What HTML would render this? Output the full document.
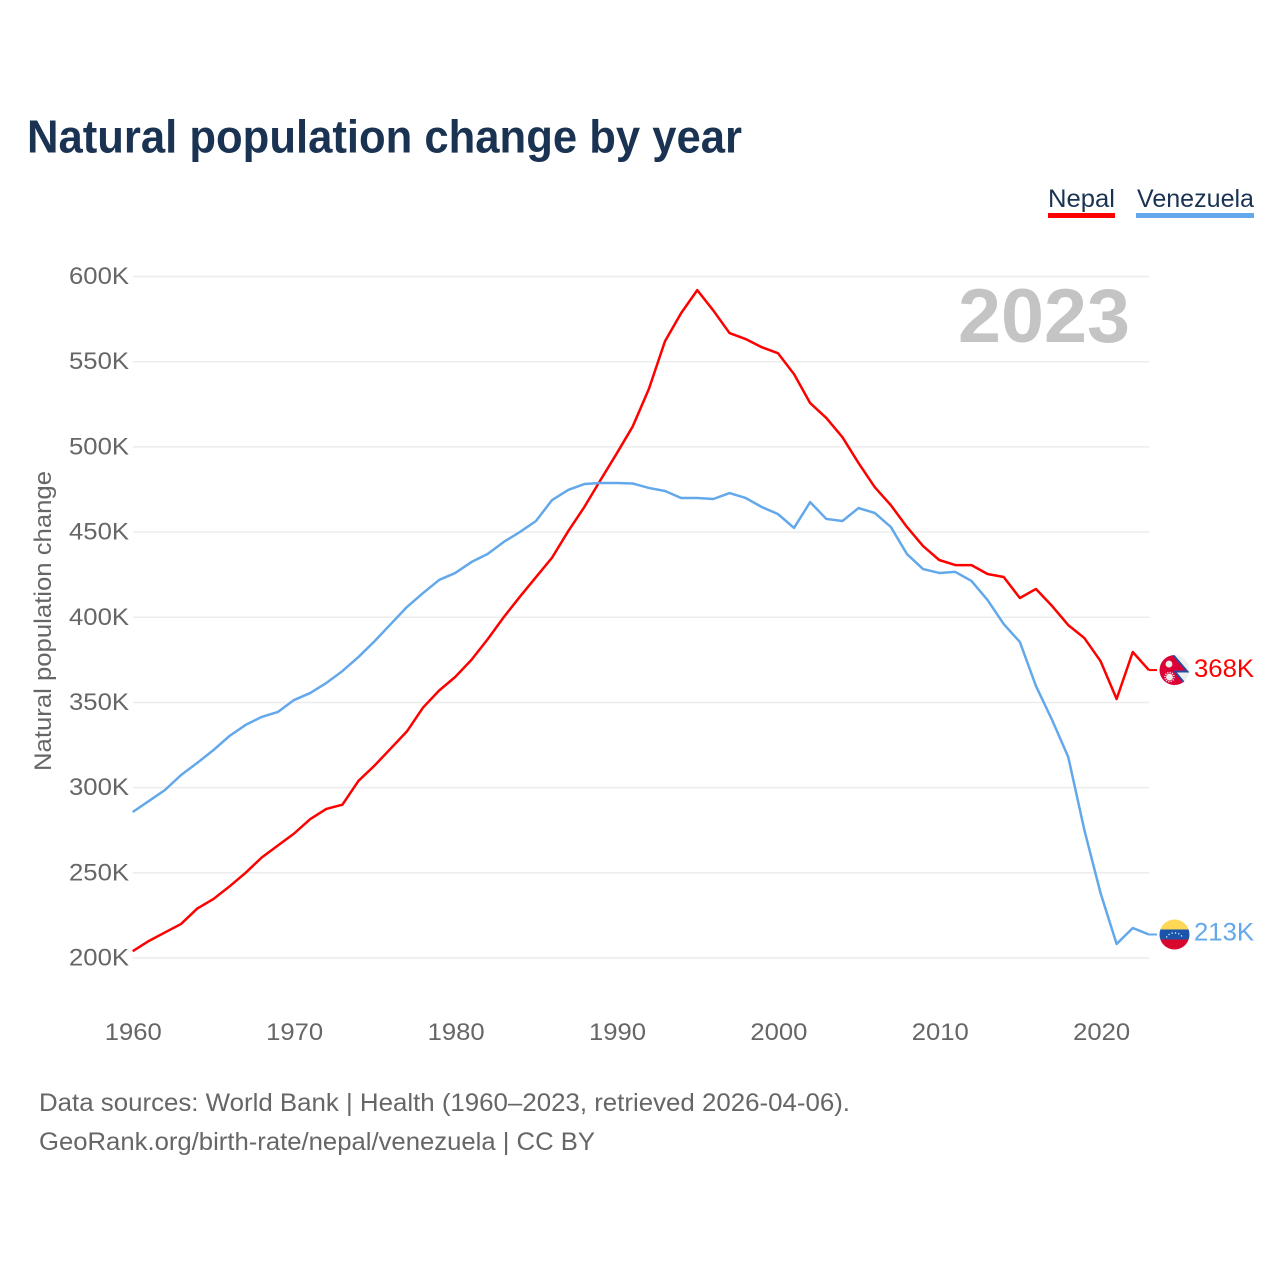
<!DOCTYPE html>
<html lang="en">
<head>
<meta charset="utf-8">
<title>Natural population change by year</title>
<style>
html,body{margin:0;padding:0;background:#fff}
svg{display:block}
text{font-family:"Liberation Sans",sans-serif}
</style>
</head>
<body>
<svg id="chart" width="1280" height="1280" viewBox="0 0 1280 1280" xmlns="http://www.w3.org/2000/svg">
  <defs>
    <clipPath id="flag-clip"><circle cx="0" cy="0" r="15"></circle></clipPath>
  </defs>
  <rect width="1280" height="1280" fill="#fff"></rect>
  <text x="27" y="152.5" font-size="46" font-weight="700" fill="#1a3353" textLength="715" lengthAdjust="spacingAndGlyphs">Natural population change by year</text>

  <g>
    <g>
      <text x="1048" y="207" font-size="25" fill="#1a3353" textLength="67" lengthAdjust="spacingAndGlyphs">Nepal</text>
      <rect x="1048" y="213" width="67" height="5" fill="#ff0000"></rect>
    </g>
    <g>
      <text x="1137" y="207" font-size="25" fill="#1a3353" textLength="117" lengthAdjust="spacingAndGlyphs">Venezuela</text>
      <rect x="1136" y="213" width="118" height="5" fill="#63a8ea"></rect>
    </g>
  </g>

  <g id="grid"></g>
  <g id="y-ticks"></g>
  <g id="x-ticks"></g>

  <text transform="translate(51 771) rotate(-90)" font-size="24" fill="#666666" textLength="300" lengthAdjust="spacingAndGlyphs">Natural population change</text>
  <text x="1130" y="342" font-size="76" font-weight="700" fill="#c4c4c4" text-anchor="end" textLength="172" lengthAdjust="spacingAndGlyphs">2023</text>

  <g id="series"></g>

  <g id="flag-nepal">
    <g clip-path="url(#flag-clip)">
      <rect x="-15" y="-15" width="30" height="30" fill="#eeeeee"></rect>
      <path d="M-16,-16 L-2,-16 L13,1.5 L0.5,1.5 L11,14 L11,16 L-16,16 Z" fill="#dc0037"></path>
      <path d="M-2,-16 L13,1.5 L0.5,1.5 L11,14" fill="none" stroke="#1f4fa3" stroke-width="1.8"></path>
      <circle cx="-5.5" cy="-6" r="3.4" fill="#eeeeee"></circle>
      <circle cx="-5" cy="7" r="3.4" fill="#eeeeee"></circle>
      <circle cx="-5" cy="7" r="4.6" fill="none" stroke="#eeeeee" stroke-width="1.4" stroke-dasharray="1.2 1.2"></circle>
    </g>
  </g>
  <g id="flag-venezuela">
    <g clip-path="url(#flag-clip)">
      <rect x="-15" y="-15" width="30" height="10.5" fill="#fdd755"></rect>
      <rect x="-15" y="-5" width="30" height="10" fill="#1a55ab"></rect>
      <rect x="-15" y="5" width="30" height="10" fill="#d9062e"></rect>
      <path d="M-8,3 A8.5,7 0 0 1 8,3" fill="none" stroke="#ffffff" stroke-width="1.2" stroke-dasharray="1.2 2.2"></path>
    </g>
  </g>

  <g id="end-labels"></g>

  <g>
    <text x="39" y="1111" font-size="25" fill="#666666" textLength="811" lengthAdjust="spacingAndGlyphs">Data sources: World Bank | Health (1960–2023, retrieved 2026-04-06).</text>
    <text x="39" y="1150" font-size="25" fill="#666666" textLength="556" lengthAdjust="spacingAndGlyphs">GeoRank.org/birth-rate/nepal/venezuela | CC BY</text>
  </g>
</svg>

<script>
const startYear = 1960;
const nepalValues = [
  204, 210, 215, 220, 229, 234.6, 242, 250, 259, 266,
  273, 281.5, 287.5, 290, 304, 313, 323, 333, 347, 357,
  365, 375, 387, 400, 412, 423.5, 435, 450.5, 464.7, 480.5,
  496, 512, 534, 562, 578.5, 592, 580, 566.8, 563.3, 558.5,
  555, 542.7, 525.7, 517, 505.7, 490.5, 476.4, 465.8, 453, 441.8,
  433.6, 430.6, 430.6, 425.4, 423.6, 411.3, 416.6, 406.6, 395.4, 387.8,
  374.3, 352, 379.6, 369
];
const venezuelaValues = [
  285.7, 292.1, 298.6, 307.4, 314.5, 322, 330.3, 336.8, 341.5, 344.4,
  351.4, 355.5, 361.4, 368.4, 376.7, 386, 396, 406, 414.2, 421.9,
  426, 432.4, 437.1, 444.2, 450, 456.5, 468.8, 474.7, 478.2, 478.8,
  478.8, 478.5, 475.9, 474.1, 470, 470, 469.4, 472.9, 470, 464.7,
  460.6, 452.4, 467.6, 457.7, 456.5, 464.1, 461.2, 453, 437.1, 428.3,
  426, 426.6, 421.3, 410.1, 396, 385.5, 359.6, 339.7, 318, 275.1,
  238.2, 208.2, 217.6, 213.8
];
const yTickValues = [200, 250, 300, 350, 400, 450, 500, 550, 600];
const yTickLabels = ["200K", "250K", "300K", "350K", "400K", "450K", "500K", "550K", "600K"];
const xTickYears = [1960, 1970, 1980, 1990, 2000, 2010, 2020];
const endLabelTexts = ["368K", "213K"];

const NS = "http://www.w3.org/2000/svg";
function xScale(year) { return 132.7 + (year - 1960) * 16.13; }
function xLabelScale(year) { return 133.3 + (year - 1960) * 16.14; }
function yScale(value) { return 958 - (value - 200) * 1.70375; }
function make(tag, attrs, parent, content) {
  const el = document.createElementNS(NS, tag);
  for (const k in attrs) el.setAttribute(k, attrs[k]);
  if (content !== undefined) el.textContent = content;
  parent.appendChild(el);
  return el;
}

const grid = document.getElementById("grid");
const yTicks = document.getElementById("y-ticks");
const xTicks = document.getElementById("x-ticks");
const seriesGroup = document.getElementById("series");
const endLabels = document.getElementById("end-labels");

yTickValues.forEach(function (v, i) {
  const line = make("line", { x1: 132.7, x2: 1149.5, y1: yScale(v), y2: yScale(v), stroke: "#ececec", "stroke-width": 1.5 }, grid);
  
  
  const label = make("text", { x: 129, y: yScale(v) + 7.5, "font-size": 24, fill: "#666666", "text-anchor": "end", textLength: 60, lengthAdjust: "spacingAndGlyphs" }, yTicks, yTickLabels[i]);
  
  
});

xTickYears.forEach(function (y) {
  const label = make("text", { x: xLabelScale(y), y: 1040, "font-size": 24, fill: "#666666", "text-anchor": "middle", textLength: 57, lengthAdjust: "spacingAndGlyphs" }, xTicks, String(y));
  
  
});

function linePoints(values) {
  return values.map(function (v, i) {
    return xScale(startYear + i).toFixed(2) + "," + yScale(v).toFixed(2);
  }).join(" ");
}

const nepalLine = make("polyline", { points: linePoints(nepalValues), fill: "none", stroke: "#ff0000", "stroke-width": 2.5, "stroke-linejoin": "round" }, seriesGroup);



const venezuelaLine = make("polyline", { points: linePoints(venezuelaValues), fill: "none", stroke: "#63a8ea", "stroke-width": 2.5, "stroke-linejoin": "round" }, seriesGroup);



const lastYearX = xScale(startYear + nepalValues.length - 1);
const nepalEndY = yScale(nepalValues[nepalValues.length - 1]);
const venezuelaEndY = yScale(venezuelaValues[venezuelaValues.length - 1]);

const nepalConnector = make("line", { x1: lastYearX, x2: 1157, y1: nepalEndY, y2: nepalEndY, stroke: "#ff0000", "stroke-width": 2 }, seriesGroup);



const venezuelaConnector = make("line", { x1: lastYearX, x2: 1157, y1: venezuelaEndY, y2: venezuelaEndY, stroke: "#63a8ea", "stroke-width": 2 }, seriesGroup);



document.getElementById("flag-nepal").setAttribute("transform", "translate(1174.5 " + nepalEndY + ")");
document.getElementById("flag-venezuela").setAttribute("transform", "translate(1174.5 " + venezuelaEndY + ")");

const nepalLabel = make("text", { x: 1194, y: nepalEndY + 7, "font-size": 25, fill: "#ff0000", textLength: 60, lengthAdjust: "spacingAndGlyphs" }, endLabels, endLabelTexts[0]);



const venezuelaLabel = make("text", { x: 1194, y: venezuelaEndY + 6, "font-size": 25, fill: "#63a8ea", textLength: 60, lengthAdjust: "spacingAndGlyphs" }, endLabels, endLabelTexts[1]);


</script>
</body>
</html>
